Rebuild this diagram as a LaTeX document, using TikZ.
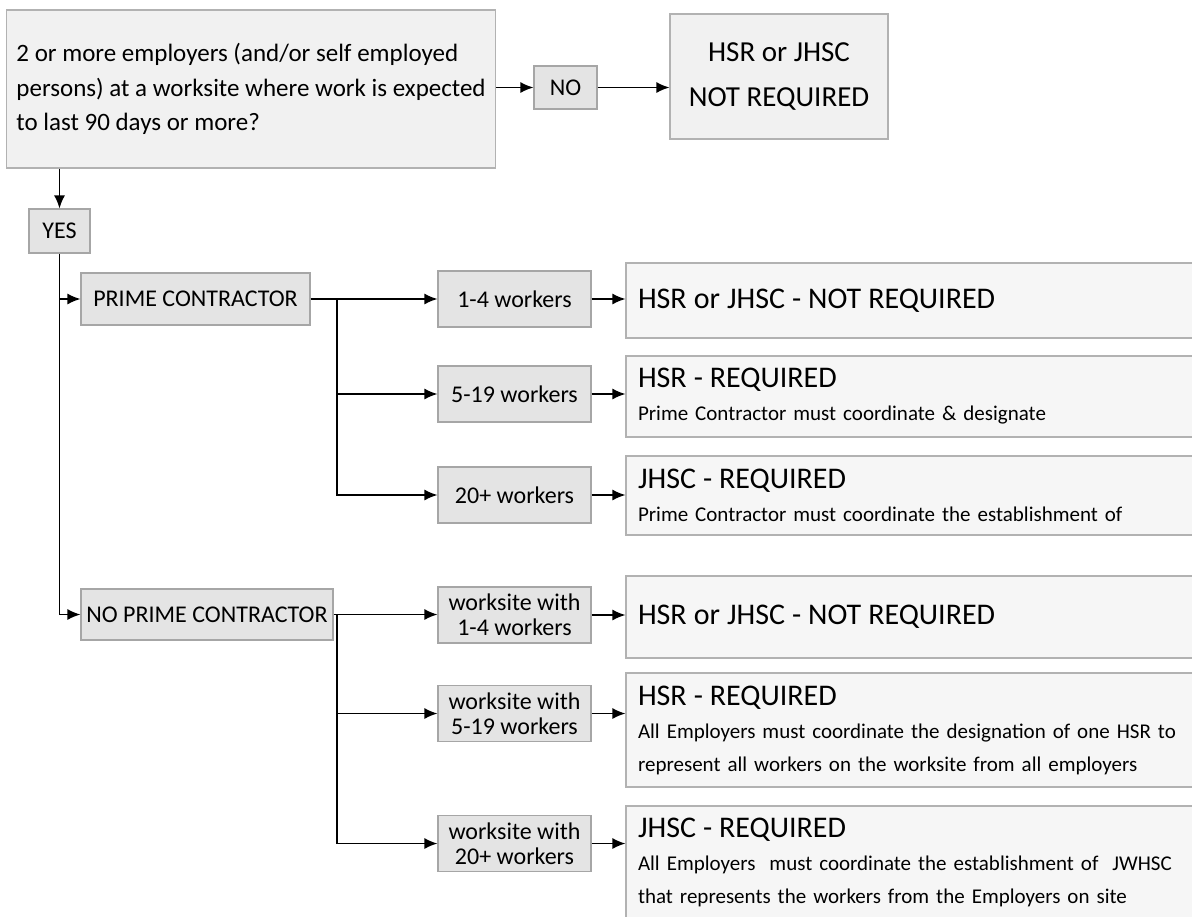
\documentclass[tikz,border=0pt]{standalone}
\usepackage{fontspec}
\setmainfont{Carlito}
\usetikzlibrary{arrows.meta}

\tikzset{
  qbox/.style={draw=gray!60, fill=gray!11, line width=0.6pt},
  tagbox/.style={draw=gray!70, fill=gray!21, line width=0.6pt, inner sep=0pt,
    align=center, font=\fontsize{12}{12.5}\selectfont},
  resbox/.style={draw=gray!60, fill=gray!7, line width=0.6pt, inner xsep=6pt,
    inner ysep=0pt, minimum width=312pt, text width=300pt, align=left,
    font=\fontsize{10.5}{16.5}\selectfont},
  conn/.style={-{Latex[length=6.5pt,width=5.5pt]}, line width=0.7pt},
}
\newcommand{\restitle}[1]{{\fontsize{15}{16.5}\selectfont #1}}

\begin{document}
\begin{tikzpicture}[x=0.5pt, y=-0.5pt]
  \useasboundingbox (0,0) rectangle (1192,916);
  % question and the NO answer
  \node[qbox, minimum width=241pt, minimum height=79pt, align=left, inner xsep=5pt,
        font=\fontsize{12.5}{17.25}\selectfont] (q) at (251,89)
    {2 or more employers (and/or self employed\\
     persons) at a worksite where work is expected\\
     to last 90 days or more?};
  \node[tagbox, minimum width=31.5pt, minimum height=21.5pt] (no) at (565.5,87.5) {NO};
  \node[qbox, minimum width=109pt, minimum height=62.5pt, align=center,
        font=\fontsize{14.5}{22.5}\selectfont] (nr) at (779,76.5)
    {HSR or JHSC\\NOT REQUIRED};
  \draw[conn] (q.east |- no.west) -- (no.west);
  \draw[conn] (no.east) -- (no.east -| nr.west);

  % YES trunk and the two contractor cases
  \node[tagbox, minimum width=30.5pt, minimum height=22pt] (yes) at (59.5,231) {YES};
  \draw[conn] (yes.north |- q.south) -- (yes.north);
  \node[tagbox, minimum width=114.5pt, minimum height=26pt] (pc) at (195.5,299) {PRIME CONTRACTOR};
  \node[tagbox, minimum width=126pt, minimum height=25.5pt] (npc) at (207,614.5) {NO PRIME CONTRACTOR};
  \draw[conn] (yes.south) |- (npc.west);
  \draw[conn] (yes.south |- pc.west) -- (pc.west);

  % worker counts
  \foreach \n/\y/\t in {w1/299/{1-4 workers}, w2/394/{5-19 workers}, w3/495/{20+ workers}}
    \node[tagbox, minimum width=76.5pt, minimum height=28pt] (\n) at (514.5,\y) {\t};
  \foreach \n/\y/\t in {s1/615/{1-4 workers}, s2/713.5/{5-19 workers}, s3/843.5/{20+ workers}}
    \node[tagbox, minimum width=76.5pt, minimum height=28pt] (\n) at (514.5,\y) {worksite with\\\t};
  \coordinate (pb) at (337,299);
  \coordinate (nb) at (337,614.5);
  \draw[conn] (pc.east) -- (w1.west);
  \draw[conn] (pb) |- (w2.west);
  \draw[conn] (pb) |- (w3.west);
  \draw[conn] (npc.east) -- (npc.east -| s1.west);
  \draw[conn] (nb) |- (s2.west);
  \draw[conn] (nb) |- (s3.west);

  % outcomes
  \node[resbox, minimum height=37.5pt] (r1) at (938,300.5)
    {\restitle{HSR or JHSC - NOT REQUIRED}};
  \node[resbox, minimum height=40.5pt] (r2) at (938,396.5)
    {\restitle{HSR - REQUIRED}\\Prime Contractor must coordinate \& designate};
  \node[resbox, minimum height=39.5pt] (r3) at (938,495.5)
    {\restitle{JHSC - REQUIRED}\\Prime Contractor must coordinate the establishment of};
  \node[resbox, minimum height=41pt] (r4) at (938,617)
    {\restitle{HSR or JHSC - NOT REQUIRED}};
  \node[resbox, minimum height=57pt] (r5) at (938,730)
    {\restitle{HSR - REQUIRED}\\
     All Employers must coordinate the designation of one HSR to\\
     represent all workers on the worksite from all employers};
  \node[resbox, minimum height=56pt] (r6) at (938,862)
    {\restitle{JHSC - REQUIRED}\\
     All Employers\ \ must coordinate the establishment of\ \ JWHSC\\
     that represents the workers from the Employers on site};
  \foreach \a/\b in {w1/r1, w2/r2, w3/r3, s1/r4, s2/r5, s3/r6}
    \draw[conn] (\a.east) -- (\a.east -| \b.west);
\end{tikzpicture}
\end{document}
